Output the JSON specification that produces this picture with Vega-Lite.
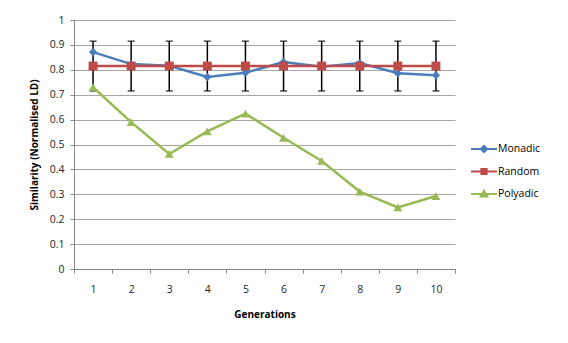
{
  "$schema": "https://vega.github.io/schema/vega-lite/v6.json",
  "autosize": "none",
  "width": 381,
  "height": 249,
  "padding": {"left": 74, "top": 20, "right": 113, "bottom": 74},
  "background": "white",
  "config": {
    "view": {"stroke": null},
    "font": "Open Sans",
    "axis": {"labelFont": "Open Sans", "titleFont": "Open Sans", "labelColor": "#262626", "titleColor": "#000000", "labelFontSize": 10.5, "titleFontSize": 10, "titleFontWeight": "bold", "domainColor": "#868686", "tickColor": "#868686"}
  },
  "datasets": {
    "series": [
      {"gen": 1, "series": "Monadic", "sim": 0.871},
      {"gen": 2, "series": "Monadic", "sim": 0.823},
      {"gen": 3, "series": "Monadic", "sim": 0.816},
      {"gen": 4, "series": "Monadic", "sim": 0.771},
      {"gen": 5, "series": "Monadic", "sim": 0.788},
      {"gen": 6, "series": "Monadic", "sim": 0.831},
      {"gen": 7, "series": "Monadic", "sim": 0.812},
      {"gen": 8, "series": "Monadic", "sim": 0.827},
      {"gen": 9, "series": "Monadic", "sim": 0.786},
      {"gen": 10, "series": "Monadic", "sim": 0.778},
      {"gen": 1, "series": "Random", "sim": 0.815},
      {"gen": 2, "series": "Random", "sim": 0.815},
      {"gen": 3, "series": "Random", "sim": 0.815},
      {"gen": 4, "series": "Random", "sim": 0.815},
      {"gen": 5, "series": "Random", "sim": 0.815},
      {"gen": 6, "series": "Random", "sim": 0.815},
      {"gen": 7, "series": "Random", "sim": 0.815},
      {"gen": 8, "series": "Random", "sim": 0.815},
      {"gen": 9, "series": "Random", "sim": 0.815},
      {"gen": 10, "series": "Random", "sim": 0.815},
      {"gen": 1, "series": "Polyadic", "sim": 0.73},
      {"gen": 2, "series": "Polyadic", "sim": 0.59},
      {"gen": 3, "series": "Polyadic", "sim": 0.462},
      {"gen": 4, "series": "Polyadic", "sim": 0.553},
      {"gen": 5, "series": "Polyadic", "sim": 0.624},
      {"gen": 6, "series": "Polyadic", "sim": 0.527},
      {"gen": 7, "series": "Polyadic", "sim": 0.434},
      {"gen": 8, "series": "Polyadic", "sim": 0.311},
      {"gen": 9, "series": "Polyadic", "sim": 0.247},
      {"gen": 10, "series": "Polyadic", "sim": 0.293}
    ],
    "errors": [
      {"gen": 1, "lo": 0.715, "hi": 0.915},
      {"gen": 2, "lo": 0.715, "hi": 0.915},
      {"gen": 3, "lo": 0.715, "hi": 0.915},
      {"gen": 4, "lo": 0.715, "hi": 0.915},
      {"gen": 5, "lo": 0.715, "hi": 0.915},
      {"gen": 6, "lo": 0.715, "hi": 0.915},
      {"gen": 7, "lo": 0.715, "hi": 0.915},
      {"gen": 8, "lo": 0.715, "hi": 0.915},
      {"gen": 9, "lo": 0.715, "hi": 0.915},
      {"gen": 10, "lo": 0.715, "hi": 0.915}
    ]
  },
  "layer": [
    {
      "data": {"name": "errors"},
      "mark": {"type": "rule", "color": "black", "strokeWidth": 1.5},
      "encoding": {
        "x": {"field": "gen", "type": "quantitative", "title": "Generations", "scale": {"domain": [0.5, 10.5], "nice": false, "zero": false},
          "axis": {"titlePadding": 15, "grid": false, "values": [0.5, 1, 1.5, 2, 2.5, 3, 3.5, 4, 4.5, 5, 5.5, 6, 6.5, 7, 7.5, 8, 8.5, 9, 9.5, 10, 10.5],
            "labelExpr": "datum.value % 1 == 0 ? '' + datum.value : ''", "tickSize": 4, "labelPadding": 11,
            "tickOpacity": {"condition": {"test": "datum.value % 1 == 0", "value": 0}, "value": 1}, "labelFlush": false, "labelOverlap": false}},
        "y": {"field": "lo", "type": "quantitative", "title": "Similarity (Normalised LD)", "scale": {"domain": [0, 1], "nice": false},
          "axis": {"titlePadding": 10, "values": [0, 0.1, 0.2, 0.3, 0.4, 0.5, 0.6, 0.7, 0.8, 0.9, 1], "format": ".1~f", "grid": true, "gridColor": "#a6a6a6", "gridWidth": 1, "tickSize": 4, "labelPadding": 6, "labelFlush": false, "labelOverlap": false}},
        "y2": {"field": "hi"}
      }
    },
    {
      "data": {"name": "errors"},
      "mark": {"type": "tick", "color": "black", "thickness": 1.5, "size": 7, "orient": "horizontal"},
      "encoding": {
        "x": {"field": "gen", "type": "quantitative", "title": "Generations", "scale": {"domain": [0.5, 10.5], "nice": false, "zero": false},
          "axis": {"titlePadding": 15, "grid": false, "values": [0.5, 1, 1.5, 2, 2.5, 3, 3.5, 4, 4.5, 5, 5.5, 6, 6.5, 7, 7.5, 8, 8.5, 9, 9.5, 10, 10.5],
            "labelExpr": "datum.value % 1 == 0 ? '' + datum.value : ''", "tickSize": 4, "labelPadding": 11,
            "tickOpacity": {"condition": {"test": "datum.value % 1 == 0", "value": 0}, "value": 1}, "labelFlush": false, "labelOverlap": false}},
        "y": {"field": "lo", "type": "quantitative", "title": "Similarity (Normalised LD)", "scale": {"domain": [0, 1], "nice": false},
          "axis": {"titlePadding": 10, "values": [0, 0.1, 0.2, 0.3, 0.4, 0.5, 0.6, 0.7, 0.8, 0.9, 1], "format": ".1~f", "grid": true, "gridColor": "#a6a6a6", "gridWidth": 1, "tickSize": 4, "labelPadding": 6, "labelFlush": false, "labelOverlap": false}}
      }
    },
    {
      "data": {"name": "errors"},
      "mark": {"type": "tick", "color": "black", "thickness": 1.5, "size": 7, "orient": "horizontal"},
      "encoding": {
        "x": {"field": "gen", "type": "quantitative", "title": "Generations", "scale": {"domain": [0.5, 10.5], "nice": false, "zero": false},
          "axis": {"titlePadding": 15, "grid": false, "values": [0.5, 1, 1.5, 2, 2.5, 3, 3.5, 4, 4.5, 5, 5.5, 6, 6.5, 7, 7.5, 8, 8.5, 9, 9.5, 10, 10.5],
            "labelExpr": "datum.value % 1 == 0 ? '' + datum.value : ''", "tickSize": 4, "labelPadding": 11,
            "tickOpacity": {"condition": {"test": "datum.value % 1 == 0", "value": 0}, "value": 1}, "labelFlush": false, "labelOverlap": false}},
        "y": {"field": "hi", "type": "quantitative", "title": "Similarity (Normalised LD)", "scale": {"domain": [0, 1], "nice": false},
          "axis": {"titlePadding": 10, "values": [0, 0.1, 0.2, 0.3, 0.4, 0.5, 0.6, 0.7, 0.8, 0.9, 1], "format": ".1~f", "grid": true, "gridColor": "#a6a6a6", "gridWidth": 1, "tickSize": 4, "labelPadding": 6, "labelFlush": false, "labelOverlap": false}}
      }
    },
    {
      "data": {"name": "series"},
      "encoding": {
        "x": {"field": "gen", "type": "quantitative", "title": "Generations", "scale": {"domain": [0.5, 10.5], "nice": false, "zero": false},
          "axis": {"titlePadding": 15, "grid": false, "values": [0.5, 1, 1.5, 2, 2.5, 3, 3.5, 4, 4.5, 5, 5.5, 6, 6.5, 7, 7.5, 8, 8.5, 9, 9.5, 10, 10.5],
            "labelExpr": "datum.value % 1 == 0 ? '' + datum.value : ''", "tickSize": 4, "labelPadding": 11,
            "tickOpacity": {"condition": {"test": "datum.value % 1 == 0", "value": 0}, "value": 1}, "labelFlush": false, "labelOverlap": false}},
        "y": {"field": "sim", "type": "quantitative", "title": "Similarity (Normalised LD)", "scale": {"domain": [0, 1], "nice": false},
          "axis": {"titlePadding": 10, "values": [0, 0.1, 0.2, 0.3, 0.4, 0.5, 0.6, 0.7, 0.8, 0.9, 1], "format": ".1~f", "grid": true, "gridColor": "#a6a6a6", "gridWidth": 1, "tickSize": 4, "labelPadding": 6, "labelFlush": false, "labelOverlap": false}}
      },
      "layer": [
        {
          "mark": {"type": "line", "strokeWidth": 2.5},
          "encoding": {
            "color": {"field": "series", "type": "nominal",
              "scale": {"domain": ["Monadic", "Random", "Polyadic"], "range": ["#4A7EBB", "#BE4B48", "#98B954"]},
              "legend": {"title": null, "orient": "none", "legendX": 396, "legendY": 121, "symbolSize": 676, "clipHeight": 16, "rowPadding": 6.5, "labelOffset": 0, "labelFont": "Open Sans", "labelFontSize": 10.5, "labelColor": "#000000", "symbolStrokeWidth": 2,
                "encode": {"symbols": {"update": {
                  "shape": {"signal": "datum.value == 'Monadic' ? 'M-1,0H1M0,-0.24L0.24,0L0,0.24L-0.24,0Z' : datum.value == 'Random' ? 'M-1,0H1M-0.2,-0.2H0.2V0.2H-0.2Z' : 'M-1,0H1M0,-0.26L0.26,0.2H-0.26Z'"},
                  "fill": {"signal": "datum.value == 'Monadic' ? '#4A7EBB' : datum.value == 'Random' ? '#BE4B48' : '#98B954'"},
                  "stroke": {"signal": "datum.value == 'Monadic' ? '#4A7EBB' : datum.value == 'Random' ? '#BE4B48' : '#98B954'"},
                  "fillOpacity": {"value": 1}
                }}}}
            },
            "order": {"field": "gen"}
          }
        },
        {
          "transform": [{"filter": "datum.series == 'Monadic'"}],
          "mark": {"type": "point", "filled": true, "opacity": 1, "shape": "diamond", "size": 70},
          "encoding": {"color": {"field": "series", "type": "nominal", "legend": null}}
        },
        {
          "transform": [{"filter": "datum.series == 'Random'"}],
          "mark": {"type": "point", "filled": true, "opacity": 1, "shape": "square", "size": 80},
          "encoding": {"color": {"field": "series", "type": "nominal", "legend": null}}
        },
        {
          "transform": [{"filter": "datum.series == 'Polyadic'"}],
          "mark": {"type": "point", "filled": true, "opacity": 1, "shape": "triangle-up", "size": 80},
          "encoding": {"color": {"field": "series", "type": "nominal", "legend": null}}
        }
      ]
    }
  ]
}
